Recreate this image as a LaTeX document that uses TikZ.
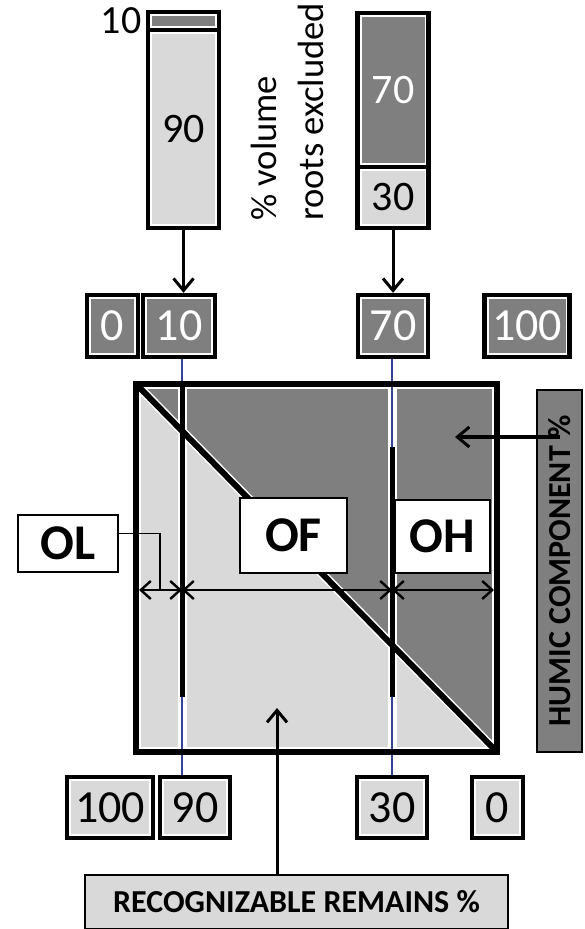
\documentclass[tikz,border=0pt]{standalone}
\usepackage{fontspec}
\setmainfont{Carlito}
\usepackage{xcolor}
\usetikzlibrary{positioning,arrows.meta}

\definecolor{darkgr}{HTML}{7F7F7F}
\definecolor{lightgr}{HTML}{D9D9D9}
\definecolor{guide}{HTML}{34449A}

\begin{document}
\begin{tikzpicture}[x=0.5pt,y=-0.5pt,font=\fontsize{23}{27}\selectfont,
      rim/.style={path picture={\draw[white,line width=4pt] (path picture bounding box.south west) rectangle (path picture bounding box.north east);}},
      topbox/.style={draw,line width=2.2pt,fill=darkgr,text=white,minimum height=31pt,inner sep=0pt,rim},
      botbox/.style={draw,line width=2.2pt,fill=lightgr,minimum height=30.5pt,inner sep=0pt,rim},
      barseg/.style={draw,line width=2.2pt,minimum width=35.5pt,inner sep=0pt,rim,font=\fontsize{21}{25}\selectfont},
      layer/.style={draw,line width=0.8pt,fill=white,inner sep=0pt,font=\fontsize{25}{30}\selectfont\bfseries},
      halo/.style={white,line width=4.5pt},
      vline/.style={line width=2.5pt},
      thin/.style={guide,line width=1pt},
      arr/.style={-{Straight Barb[length=6pt,width=10pt]},line width=1.5pt},
      dbl/.style={{Straight Barb[length=5pt,width=9pt]}-{Straight Barb[length=5pt,width=9pt]},line width=1.2pt}]
    \useasboundingbox (0,0) rectangle (584,929);
    % bars on top
    \node[barseg,fill=darkgr,minimum height=9pt] (s10) at (183.5,21) {};
    \node[barseg,fill=lightgr,minimum height=99pt] (s90) at (183.5,129) {90};
    \node[font=\fontsize{20}{24}\selectfont,anchor=east,inner sep=2pt] (l10) at (s10.west) {10};
    \node[barseg,fill=darkgr,text=white,minimum height=77pt] (s70) at (393,90) {70};
    \node[barseg,fill=lightgr,minimum height=30.5pt] (s30) at (393,197.5) {30};
    \node[rotate=90,anchor=west,align=left,font=\fontsize{18.3}{23.5}\selectfont] (vol) at (287,228) {\% volume\\roots excluded};
    % value boxes
    \foreach \n/\x/\w in {0/112.5/25.5pt,10/179/36pt,70/393/35pt,100/527/42.5pt} {
      \node[topbox,minimum width=\w] (t\n) at (\x,326) {\n};
    }
    \foreach \n/\x/\w in {100/110/43pt,90/195/35pt,30/392/35pt,0/497.5/25.5pt} {
      \node[botbox,minimum width=\w] (b\n) at (\x,807.5) {\n};
    }
    \draw[arr] (s90.south) -- (s90.south |- t10.north);
    \draw[arr] (s30.south) -- (s30.south |- t70.north);
    % square
    \coordinate (nw) at (136,384);
    \coordinate (se) at (497,752);
    \fill[lightgr] (nw) -- (se) -- (nw |- se) -- cycle;
    \fill[darkgr] (nw) -- (se) -- (se |- nw) -- cycle;
    \coordinate (x10) at (182,384);
    \coordinate (x70) at (392,384);
    \draw[halo] (x10) -- (x10 |- se);
    \draw[halo] (x70) -- (x70 |- se);
    \draw[halo] (nw) -- (se);
    \draw[white,line width=5pt] (nw) rectangle (se);
    \draw[thin] (t10.south -| x10) -- (b90.north -| x10);
    \draw[thin] (t70.south -| x70) -- (b30.north -| x70);
    \draw[vline] (x10) -- (182,697);
    \draw[vline] (392,447) -- (392,697);
    \draw[line width=3pt] (nw) -- (se);
    \draw[line width=3.2pt] (nw) rectangle (se);
    % layers
    \node[layer,minimum width=50pt,minimum height=28.5pt] (OL) at (68,543.5) {OL};
    \node[layer,minimum width=53.5pt,minimum height=37.5pt] (OF) at (293.5,535.5) {OF};
    \node[layer,minimum width=47.5pt,minimum height=36.5pt] (OH) at (442.5,536.5) {OH};
    \coordinate (r0) at (139,590);
    \coordinate (r1) at (182,590);
    \coordinate (r2) at (392,590);
    \coordinate (r3) at (494,590);
    \coordinate (olend) at (160,590);
    \draw[dbl] (r0) -- (r1);
    \draw[dbl] (r1) -- (r2);
    \draw[dbl] (r2) -- (r3);
    \draw[line width=0.8pt] ([yshift=5pt]OL.east) -| (olend);
    % side labels
    \node[draw,line width=0.8pt,fill=darkgr,rotate=90,minimum width=181pt,minimum height=22.5pt,inner sep=0pt,font=\fontsize{16}{19}\selectfont\bfseries] (humic) at (559.5,571) {HUMIC COMPONENT \%};
    \coordinate (humtip) at (455,437);
    \draw[arr] (humic.west |- humtip) -- (humtip);
    \node[draw,line width=0.8pt,fill=lightgr,minimum width=211.5pt,minimum height=27pt,inner sep=0pt,font=\fontsize{16}{19}\selectfont\bfseries] (recog) at (296.5,902) {RECOGNIZABLE REMAINS \%};
    \coordinate (rectip) at (277,708);
    \draw[arr] (recog.north -| rectip) -- (rectip);
  \end{tikzpicture}
\end{document}
